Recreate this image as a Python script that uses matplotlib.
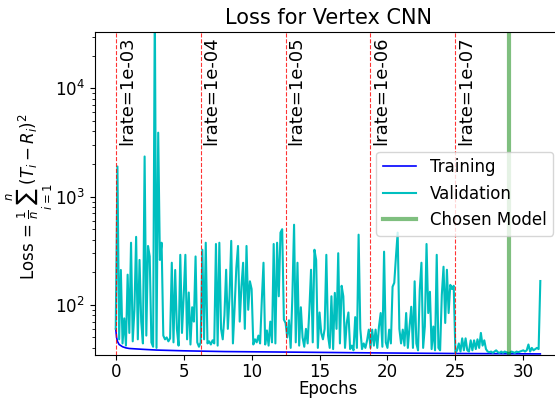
import numpy as np
import matplotlib
matplotlib.use('Agg')
import matplotlib.pyplot as plt

#### Run settings ####
EPOCH_STEP = 0.125                     # validation evaluated 8 times per epoch
LRATE_STARTS = [0.0, 6.25, 12.5, 18.75, 25.0]
LRATE_LABELS = ['lrate=1e-03', 'lrate=1e-04', 'lrate=1e-05',
                'lrate=1e-06', 'lrate=1e-07']
CHOSEN_EPOCH = 28.95

#### Loss history ####
# training loss, sampled at a few epochs (smooth curve)
train_epochs = [0.0, 0.06, 0.125, 0.25, 0.5, 0.75, 1.0, 2.0, 3.0, 5.0,
                8.0, 12.5, 18.75, 25.0, 31.25]
train_loss = [60.0, 50.0, 46.0, 43.0, 41.0, 40.0, 39.5, 38.8, 38.2, 37.6,
              37.0, 36.6, 36.0, 35.5, 35.2]

# validation loss, one value per EPOCH_STEP
val_loss_lr3 = [60, 1900, 48, 210, 44, 75, 42, 190, 55, 375,
                46, 90, 425, 48, 260, 70, 44, 2350, 52, 350,
                280, 45, 41, 60000, 40, 3900, 260, 375, 52, 48,
                50, 46, 49, 245, 45, 210, 60, 42, 290, 55,
                120, 290, 48, 130, 43, 95, 70, 280, 45, 41]
val_loss_lr4 = [45, 323, 48, 375, 44, 46, 43, 47, 44, 365,
                42, 375, 60, 48, 80, 211, 60, 120, 390, 44,
                95, 220, 350, 70, 147, 245, 60, 350, 90, 165,
                140, 43, 48, 45, 52, 44, 110, 245, 43, 58,
                42, 70, 45, 365, 44, 375, 120, 465, 500, 73]
val_loss_lr5 = [68, 50, 72, 40, 120, 550, 45, 245, 42, 95,
                50, 41, 60, 44, 90, 211, 45, 323, 260, 40,
                85, 55, 48, 60, 290, 52, 40, 120, 39, 129,
                60, 300, 44, 150, 120, 40, 68, 85, 39, 42,
                38, 77, 40, 445, 60, 39, 44, 40, 47, 59]
val_loss_lr6 = [40, 59, 42, 59, 40, 63, 84, 41, 310, 45,
                40, 59, 44, 147, 160, 280, 465, 60, 44, 59,
                42, 84, 40, 63, 96, 40, 165, 44, 38, 137,
                245, 40, 63, 365, 84, 132, 39, 63, 38, 290,
                40, 38, 124, 225, 68, 211, 84, 153, 140, 150]
val_loss_lr7 = [36, 38, 44, 37, 49, 38, 49, 38, 37, 47,
                38, 47, 39, 48, 40, 55, 42, 47, 39, 37,
                36.5, 37, 36, 37, 38, 36.5, 36, 37, 36, 37,
                36.5, 36, 36, 37, 36.5, 36, 37, 36.5, 37, 37.5,
                38, 37, 38, 43, 37, 40, 38, 39, 40, 39, 166]

val_loss = val_loss_lr3 + val_loss_lr4 + val_loss_lr5 + val_loss_lr6 + val_loss_lr7
val_epochs = np.arange(len(val_loss)) * EPOCH_STEP

plt.rcParams['font.size'] = 12

fig = plt.figure(figsize=(5.55, 3.99), dpi=100)
ax = fig.add_axes([0.1703, 0.1103, 0.8415, 0.8087])

ax.plot(train_epochs, train_loss, color='b', lw=1.2, label='Training')
ax.plot(val_epochs, val_loss, color='c', lw=1.5, label='Validation')
for start, lab in zip(LRATE_STARTS, LRATE_LABELS):
    ax.axvline(x=start, color='r', ls='--', lw=0.8, alpha=0.8)
    ax.text(start + 0.15, 3.0e4, lab, rotation=90, ha='left', va='top',
            fontsize=13)
ax.axvline(x=CHOSEN_EPOCH, color='g', lw=3, alpha=0.5, label='Chosen Model')

ax.set_yscale('log')
ax.set_ylim(34.4, 33000)
ax.set_xlim(-1.5625, 32.8125)
ax.set_xticks([0, 5, 10, 15, 20, 25, 30])
ax.tick_params(axis='x', pad=2)
ax.set_xlabel('Epochs')
ax.xaxis.set_label_coords(0.5, -0.079)
ax.set_ylabel(r'Loss = $\frac{1}{n}\sum_{i=1}^{n}(T_i-R_i)^2$')
ax.yaxis.set_label_coords(-0.085, 0.49)
ax.set_title('Loss for Vertex CNN', fontsize=15)
ax.legend(loc='center right', fontsize=12)

fig.savefig('out.png', dpi=100)
